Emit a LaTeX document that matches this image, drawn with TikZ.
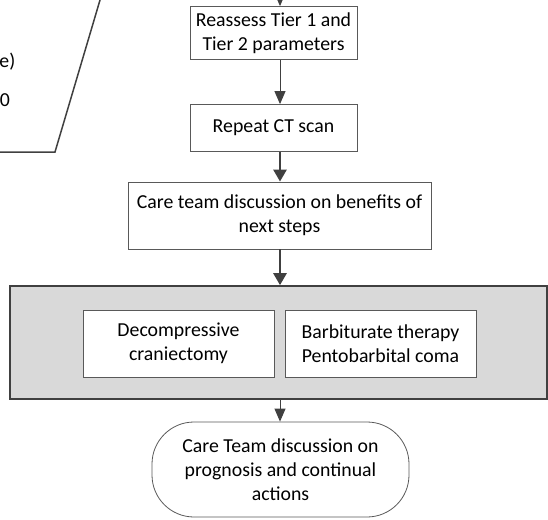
\documentclass[tikz,border=0pt]{standalone}
\usepackage{fontspec}
\setmainfont{Carlito}
\usetikzlibrary{arrows.meta}
\definecolor{linec}{HTML}{404040}
\definecolor{boxc}{HTML}{595959}
\definecolor{grayfill}{HTML}{D9D9D9}
\tikzset{
  box/.style={draw=boxc, line width=0.8pt, fill=white, align=center, inner sep=2pt,
    font=\fontsize{19.8}{24}\selectfont, text=black},
  thinarrow/.style={draw=linec, line width=1pt, -{Triangle[length=13pt,width=11pt]}},
  thickarrow/.style={draw=linec, line width=2.6pt, -{Triangle[length=12pt,width=13pt]}},
}
\begin{document}
\begin{tikzpicture}[x=1pt,y=-1pt]
\useasboundingbox (0,0) rectangle (548,519);
\clip (0,0) rectangle (548,519);
% partial parallelogram at top left
\draw[linec, line width=1.5pt] (-10,152) -- (55,152) -- (101.5,-5);
\node[anchor=east, font=\fontsize{19.8}{24}\selectfont, inner sep=0pt] (frag1) at (15.5,62) {e)};
\node[anchor=east, font=\fontsize{19.8}{24}\selectfont, inner sep=0pt] (frag2) at (10,100) {0};
% nodes
\node[box, minimum width=167pt, minimum height=53pt] (reassess) at (273.5,33) {Reassess Tier 1 and\\Tier 2 parameters};
\node[box, minimum width=167pt, minimum height=47pt] (repeat) at (273.5,128) {Repeat CT scan};
\node[box, minimum width=303pt, minimum height=67pt] (care) at (279.5,215.5) {Care team discussion on benefits of\\next steps};
\node[draw=linec, line width=1.6pt, fill=grayfill, minimum width=537pt, minimum height=113pt] (group) at (278.5,342.5) {};
\node[box, minimum width=191pt, minimum height=67pt] (decomp) at (178.5,343.5) {Decompressive\\craniectomy};
\node[box, minimum width=191pt, minimum height=67pt] (barb) at (380.5,343.5) {Barbiturate therapy\\Pentobarbital coma};
\node[box, rounded corners=42pt, minimum width=257pt, minimum height=95pt] (final) at (280.5,469.5) {Care Team discussion on\\prognosis and continual\\actions};
% connectors
\coordinate (topin) at (280,-10);
\draw[thinarrow] (topin) -- (reassess.north -| topin);
\draw[thinarrow] (reassess.south -| topin) -- (repeat.north -| topin);
\draw[thickarrow] (repeat.south -| topin) -- (care.north -| topin);
\draw[thickarrow] (care.south -| topin) -- (group.north -| topin);
\draw[thinarrow] (group.south -| topin) -- (final.north -| topin);
\end{tikzpicture}
\end{document}
